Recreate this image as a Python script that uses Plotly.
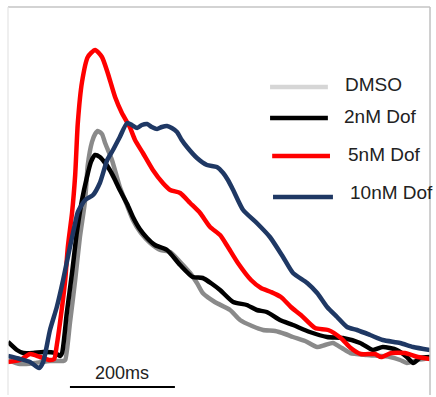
import plotly.graph_objects as go

# ---- data (time in ms, amplitude in dF/F) ----
dmso_t = [0, 23, 51, 80, 105, 109, 118, 128, 137, 147, 152, 160, 166, 171, 179, 185, 198, 213, 225, 238,
          253, 271, 290, 309, 328, 347, 360, 371, 394, 423, 442, 465, 486, 509, 528, 543, 566, 589, 604,
          619, 636, 652, 684, 728, 747, 760, 781, 804]
dmso_v = [-0.03, -0.07, -0.06, -0.04, -0.04, -0.03, 0.34, 0.77, 1.20, 1.57, 1.92, 2.15, 2.23, 2.26, 2.23,
          2.14, 1.97, 1.70, 1.54, 1.37, 1.24, 1.14, 1.07, 1.05, 0.95, 0.84, 0.74, 0.64, 0.55, 0.47, 0.37,
          0.31, 0.27, 0.26, 0.23, 0.20, 0.16, 0.10, 0.12, 0.14, 0.09, 0.04, 0.02, 0.00, -0.03, -0.06,
          -0.03, -0.01]

dof2_t = [0, 17, 29, 48, 67, 90, 99, 103, 112, 122, 131, 141, 150, 158, 166, 175, 185, 194, 204, 213, 227,
          238, 251, 265, 280, 303, 328, 352, 371, 389, 404, 429, 455, 474, 493, 518, 543, 575, 608, 638,
          671, 695, 714, 741, 760, 772, 785, 804]
dof2_v = [0.15, 0.07, 0.04, 0.04, 0.05, 0.04, 0.01, 0.04, 0.44, 0.84, 1.24, 1.57, 1.79, 1.95, 2.02, 2.00,
          1.94, 1.87, 1.77, 1.67, 1.53, 1.40, 1.28, 1.19, 1.12, 1.07, 0.92, 0.80, 0.79, 0.73, 0.67, 0.55,
          0.52, 0.47, 0.45, 0.37, 0.32, 0.25, 0.20, 0.19, 0.14, 0.07, 0.10, 0.07, 0.00, -0.06, -0.01, 0.00]

dof5_t = [0, 23, 42, 61, 80, 88, 93, 99, 109, 114, 122, 128, 133, 141, 152, 166, 179, 190, 204, 217, 232,
          242, 257, 276, 295, 309, 328, 347, 366, 385, 404, 419, 438, 463, 482, 501, 520, 539, 558, 585,
          610, 634, 653, 672, 699, 711, 730, 756, 781, 804]
dof5_v = [-0.05, -0.03, 0.03, 0.00, -0.03, -0.02, 0.12, 0.34, 0.77, 1.10, 1.44, 1.82, 2.34, 2.75, 3.00,
          3.07, 3.00, 2.84, 2.60, 2.44, 2.30, 2.17, 2.04, 1.87, 1.74, 1.67, 1.64, 1.54, 1.44, 1.30, 1.22,
          1.10, 0.94, 0.77, 0.69, 0.65, 0.60, 0.50, 0.42, 0.29, 0.27, 0.19, 0.09, 0.03, 0.03, 0.00, 0.04,
          0.04, 0.00, -0.02]

dof10_t = [0, 23, 42, 59, 67, 80, 93, 105, 118, 128, 133, 147, 162, 175, 189, 200, 213, 227, 236, 246, 255,
           265, 274, 284, 293, 303, 312, 322, 331, 341, 360, 379, 398, 410, 419, 429, 448, 474, 499, 524,
           543, 570, 589, 608, 627, 646, 665, 690, 714, 747, 772, 804]
dof10_v = [0.01, -0.02, -0.05, -0.11, -0.05, 0.27, 0.50, 0.77, 1.10, 1.34, 1.45, 1.57, 1.62, 1.74, 1.97,
           2.07, 2.20, 2.34, 2.32, 2.29, 2.32, 2.33, 2.30, 2.28, 2.30, 2.31, 2.29, 2.25, 2.17, 2.10, 1.99,
           1.92, 1.90, 1.84, 1.77, 1.67, 1.47, 1.34, 1.20, 1.00, 0.84, 0.74, 0.64, 0.50, 0.40, 0.30, 0.27,
           0.22, 0.17, 0.14, 0.10, 0.07]

series_names = ["DMSO", "2nM Dof", "5nM Dof", "10nM Dof"]
scale_bar_ms = 200
scale_label = "200ms"

# ---- styles ----
trace_colors = ["#8a8a8a", "#000000", "#ff0000", "#1f3864"]
legend_colors = ["#d6d6d6", "#000000", "#ff0000", "#1f3864"]

fig = go.Figure()
for t, v, c, n in [(dmso_t, dmso_v, trace_colors[0], series_names[0]),
                   (dof2_t, dof2_v, trace_colors[1], series_names[1]),
                   (dof5_t, dof5_v, trace_colors[2], series_names[2]),
                   (dof10_t, dof10_v, trace_colors[3], series_names[3])]:
    fig.add_trace(go.Scatter(x=t, y=v, mode="lines", name=n,
                             line=dict(color=c, width=4.5, shape="spline", smoothing=0.6),
                             showlegend=False, hoverinfo="skip"))

# scale bar (data coordinates)
sb_x0 = 118
sb_y = -0.30
fig.add_shape(type="line", xref="x", yref="y", x0=sb_x0, x1=sb_x0 + scale_bar_ms, y0=sb_y, y1=sb_y,
              line=dict(color="#000000", width=1.8))
fig.add_annotation(xref="x", yref="y", x=sb_x0 + scale_bar_ms / 2, y=-0.16, text=scale_label,
                   showarrow=False, font=dict(family="Arial, Liberation Sans", size=18, color="#222222"))

# legend (manual)
leg_rows = [
    (0.621, 0.758, 0.794, 0.794, 0.800),
    (0.621, 0.758, 0.714, 0.791, 0.717),
    (0.626, 0.763, 0.616, 0.801, 0.620),
    (0.628, 0.770, 0.510, 0.806, 0.523),
]
for (x0, x1, yl, xt, yt), name, col in zip(leg_rows, series_names, legend_colors):
    fig.add_shape(type="line", xref="paper", yref="paper", x0=x0, x1=x1, y0=yl, y1=yl,
                  line=dict(color=col, width=4.5))
    fig.add_annotation(xref="paper", yref="paper", x=xt, y=yt, xanchor="left", yanchor="middle",
                       text=name, showarrow=False,
                       font=dict(family="Arial, Liberation Sans", size=19, color="#222222"))

# frame: top, left, right
fig.add_shape(type="line", xref="paper", yref="paper", x0=0, x1=1, y0=1, y1=1,
              line=dict(color="#c4c4c4", width=1.5))
fig.add_shape(type="line", xref="paper", yref="paper", x0=0, x1=0, y0=0, y1=1,
              line=dict(color="#e4e4e4", width=1.2))
fig.add_shape(type="line", xref="paper", yref="paper", x0=1, x1=1, y0=0, y1=1,
              line=dict(color="#c0c0c0", width=1.5))

fig.update_layout(
    width=436, height=397,
    margin=dict(l=8, r=6, t=7, b=2),
    paper_bgcolor="white", plot_bgcolor="white",
    xaxis=dict(range=[0, 804], visible=False, fixedrange=True),
    yaxis=dict(range=[-0.38, 3.50], visible=False, fixedrange=True),
    showlegend=False,
)

fig.write_html("out.html", config={"displayModeBar": False},
               post_script="document.body.style.margin='0';document.body.style.overflow='hidden';")
